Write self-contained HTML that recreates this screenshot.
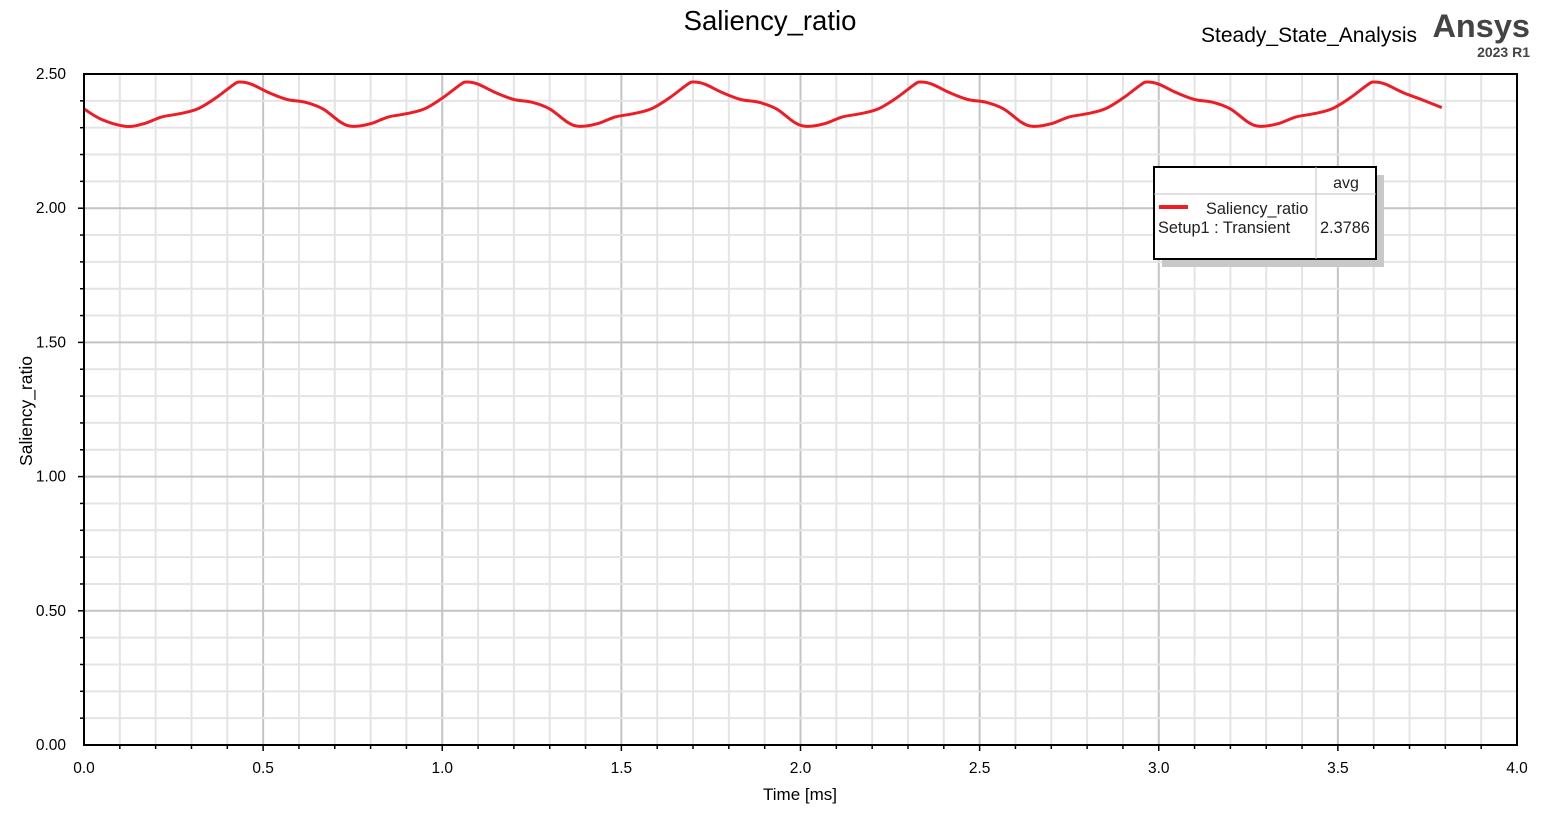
<!DOCTYPE html>
<html><head><meta charset="utf-8"><style>
body{margin:0;background:#fff}
svg text{font-family:"Liberation Sans",sans-serif}
</style></head><body>
<svg id="chart" width="1543" height="811" xmlns="http://www.w3.org/2000/svg">
<text x="770" y="30" font-size="27.5" text-anchor="middle">Saliency_ratio</text>
<text x="1417" y="42" font-size="21" text-anchor="end">Steady_State_Analysis</text>
<text x="1530" y="37" font-size="32.5" font-weight="bold" fill="#444" text-anchor="end">Ansys</text>
<text x="1530" y="57" font-size="14" font-weight="bold" fill="#444" text-anchor="end">2023 R1</text>
<g id="grid"></g>
<g id="ticks"></g>
<path id="curve" fill="none" stroke="#ee1c25" stroke-width="3"/>
<rect x="84" y="74" width="1433" height="671" fill="none" stroke="#000" stroke-width="2"/>
<text x="800" y="800" font-size="17" text-anchor="middle">Time [ms]</text>
<text transform="translate(32,411) rotate(-90)" font-size="17.5" text-anchor="middle">Saliency_ratio</text>
<g>
<rect x="1162" y="175" width="222" height="92" fill="#c8c8c8"/>
<rect x="1154" y="167" width="222" height="92" fill="#fff" stroke="#000" stroke-width="2"/>
<line x1="1154" y1="194" x2="1376" y2="194" stroke="#c0c0c0"/>
<line x1="1316" y1="167" x2="1316" y2="259" stroke="#c0c0c0"/>
<text x="1346" y="188" font-size="16" text-anchor="middle" fill="#222">avg</text>
<line x1="1159" y1="207" x2="1188" y2="207" stroke="#ee1c25" stroke-width="4"/>
<text x="1206" y="214" font-size="16.3" fill="#222">Saliency_ratio</text>
<text x="1158" y="233" font-size="16.3" fill="#222">Setup1 : Transient</text>
<text x="1320" y="233" font-size="16.3" fill="#222">2.3786</text>
</g>
</svg>
<script>
const times=[0.000,0.050,
0.117,0.167,0.217,0.267,0.317,0.367,0.417,0.434,0.467,0.517,0.567,0.617,0.667,0.717,
0.750,0.800,0.850,0.900,0.950,1.000,1.050,1.067,1.100,1.150,1.200,1.250,1.300,1.350,
1.383,1.433,1.483,1.533,1.583,1.633,1.683,1.700,1.733,1.783,1.833,1.883,1.933,1.983,
2.017,2.067,2.117,2.167,2.217,2.267,2.317,2.334,2.367,2.417,2.467,2.517,2.567,2.617,
2.650,2.700,2.750,2.800,2.850,2.900,2.950,2.967,3.000,3.050,3.100,3.150,3.200,3.250,
3.283,3.333,3.383,3.433,3.483,3.533,3.583,3.600,3.633,3.683,3.733,3.790];
const values=[2.370,2.330,
2.305,2.315,2.340,2.352,2.370,2.410,2.460,2.470,2.462,2.430,2.405,2.395,2.370,2.320,
2.305,2.315,2.340,2.352,2.370,2.410,2.460,2.470,2.462,2.430,2.405,2.395,2.370,2.320,
2.305,2.315,2.340,2.352,2.370,2.410,2.460,2.470,2.462,2.430,2.405,2.395,2.370,2.320,
2.305,2.315,2.340,2.352,2.370,2.410,2.460,2.470,2.462,2.430,2.405,2.395,2.370,2.320,
2.305,2.315,2.340,2.352,2.370,2.410,2.460,2.470,2.462,2.430,2.405,2.395,2.370,2.320,
2.305,2.315,2.340,2.352,2.370,2.410,2.460,2.470,2.462,2.430,2.405,2.375];
const xTicks=["0.0","0.5","1.0","1.5","2.0","2.5","3.0","3.5","4.0"];
const yTicks=["0.00","0.50","1.00","1.50","2.00","2.50"];
const X0=84,X1=1517,Y0=745,Y1=74;
const sx=v=>X0+(v/4)*(X1-X0);
const sy=v=>Y0-(v/2.5)*(Y0-Y1);
const NS="http://www.w3.org/2000/svg";
const grid=document.getElementById('grid'),ticks=document.getElementById('ticks');
function mk(p,tag,a){const e=document.createElementNS(NS,tag);for(const k in a)e.setAttribute(k,a[k]);p.appendChild(e);return e;}
for(let i=1;i<40;i++){const x=sx(i*0.1);const major=i%5==0;
 const l=mk(grid,'line',{x1:x,y1:Y1,x2:x,y2:Y0,stroke:major?'#c4c4c4':'#e4e4e4','stroke-width':2});
 
 
 mk(ticks,'line',{x1:x,y1:Y0,x2:x,y2:Y0+(major?6:4),stroke:'#000','stroke-width':1.5});}
for(let i=1;i<25;i++){const y=sy(i*0.1);const major=i%5==0;
 const l=mk(grid,'line',{x1:X0,y1:y,x2:X1,y2:y,stroke:major?'#c4c4c4':'#e4e4e4','stroke-width':2});
 
 
 mk(ticks,'line',{x1:X0-(major?6:4),y1:y,x2:X0,y2:y,stroke:'#000','stroke-width':1.5});}
xTicks.forEach(t=>{const e=mk(ticks,'text',{x:sx(+t),y:773,'font-size':15.5,'text-anchor':'middle'});e.textContent=t;
 
 });
yTicks.forEach(t=>{const e=mk(ticks,'text',{x:66,y:sy(+t)+5,'font-size':15.5,'text-anchor':'end'});e.textContent=t;
 
 });
const P=times.map((t,i)=>[sx(t),sy(values[i])]);
let d='M'+P[0][0]+','+P[0][1];
for(let i=0;i<P.length-1;i++){const p0=P[Math.max(0,i-1)],p1=P[i],p2=P[i+1],p3=P[Math.min(P.length-1,i+2)];
 d+=` C${p1[0]+(p2[0]-p0[0])/6},${p1[1]+(p2[1]-p0[1])/6} ${p2[0]-(p3[0]-p1[0])/6},${p2[1]-(p3[1]-p1[1])/6} ${p2[0]},${p2[1]}`;}
document.getElementById('curve').setAttribute('d',d);
</script>
</body></html>
